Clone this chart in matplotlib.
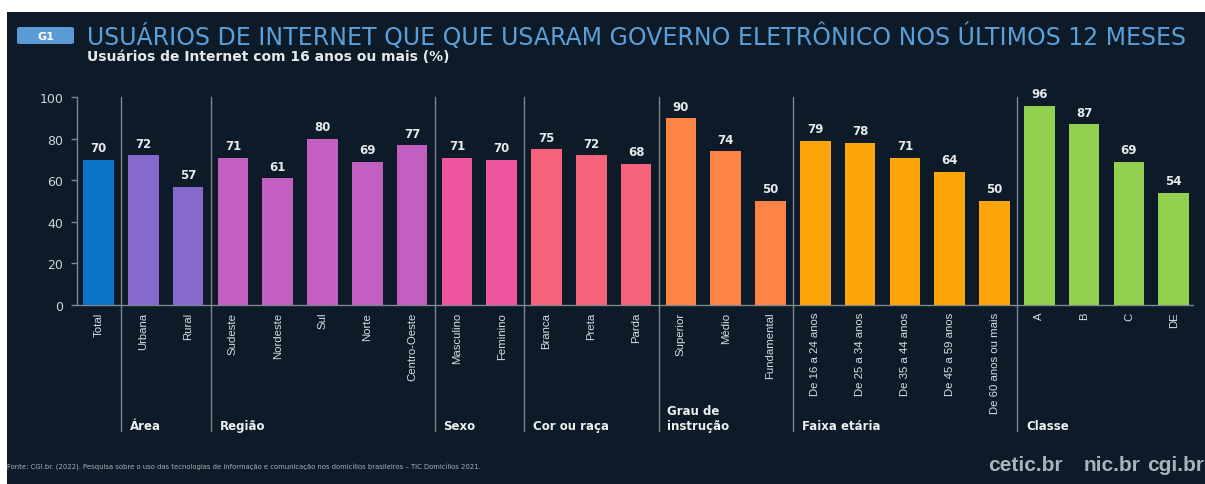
import matplotlib
matplotlib.use('Agg')
import matplotlib.pyplot as plt
from matplotlib.patches import Rectangle, FancyBboxPatch
import matplotlib.transforms as mtransforms

# dados do grafico G1 (TIC Domicilios 2021)
categories = ['Total', 'Urbana', 'Rural', 'Sudeste', 'Nordeste', 'Sul', 'Norte', 'Centro-Oeste',
              'Masculino', 'Feminino', 'Branca', 'Preta', 'Parda', 'Superior', 'Médio', 'Fundamental',
              'De 16 a 24 anos', 'De 25 a 34 anos', 'De 35 a 44 anos', 'De 45 a 59 anos',
              'De 60 anos ou mais', 'A', 'B', 'C', 'DE']
values = [70, 72, 57, 71, 61, 80, 69, 77, 71, 70, 75, 72, 68, 90, 74, 50,
          79, 78, 71, 64, 50, 96, 87, 69, 54]
groups = ['', 'Área', 'Região', 'Sexo', 'Cor ou raça', 'Grau de\ninstrução', 'Faixa etária', 'Classe']
group_sizes = [1, 2, 5, 2, 3, 3, 5, 4]
group_colors = ['#0b74c8', '#8569cc', '#c25fc0', '#f0569f', '#f7637a', '#fd8347', '#fda60c', '#92d14f']
yticks = [0, 20, 40, 60, 80, 100]

title = 'USUÁRIOS DE INTERNET QUE QUE USARAM GOVERNO ELETRÔNICO NOS ÚLTIMOS 12 MESES'
subtitle = 'Usuários de Internet com 16 anos ou mais (%)'
fonte = ('Fonte: CGI.br. (2022). Pesquisa sobre o uso das tecnologias de informação e comunicação '
         'nos domicílios brasileiros – TIC Domicílios 2021.')
logos = ['cetic.br', 'nic.br', 'cgi.br']

BG = '#0d1b28'
GRID = '#7d8791'
W, H = 1205.0, 485.0

def fx(px):
    return px / W

def fy(py):
    return 1 - py / H

narrow = ['Liberation Sans', 'DejaVu Sans']

fig = plt.figure(figsize=(12.05, 4.85), dpi=100, facecolor='white')
fig.add_artist(Rectangle((fx(7), 0), 1, fy(13), transform=fig.transFigure,
                         facecolor=BG, edgecolor='none', zorder=0))

ax = fig.add_axes([fx(77), fy(305.7), fx(1193) - fx(77), fy(98.4) - fy(305.7)])
ax.set_facecolor(BG)
ax.patch.set_alpha(0)

colors = []
for c, n in zip(group_colors, group_sizes):
    colors += [c] * n
xs = list(range(len(categories)))
bars = ax.bar(xs, values, width=0.685, color=colors, zorder=3)
for x, v in zip(xs, values):
    ax.annotate(str(v), (x, v), xytext=(0, 4), textcoords='offset points',
                ha='center', va='bottom', fontsize=8.5, fontweight='bold', color='#e6e8ea')

ax.set_xlim(-0.48, 24.43)
ax.set_ylim(0, 100)
ax.set_yticks(yticks)
ax.set_xticks(xs)
ax.set_xticklabels(categories, rotation=90, fontsize=8.2, color='#d8dce0', family=narrow)
ax.tick_params(axis='x', length=0, pad=5)
ax.tick_params(axis='y', length=4, width=1, color=GRID, labelsize=9, labelcolor='#d0d4d8', pad=6)
for s in ['top', 'right']:
    ax.spines[s].set_visible(False)
for s in ['left', 'bottom']:
    ax.spines[s].set_color(GRID)
    ax.spines[s].set_linewidth(1)

# separadores e nomes dos grupos
trans = mtransforms.blended_transform_factory(ax.transData, ax.transAxes)
pos = -0.5
for i, (g, n) in enumerate(zip(groups, group_sizes)):
    if i > 0:
        ax.plot([pos, pos], [-0.61, 1.0], color=GRID, lw=1, transform=trans, clip_on=False, zorder=2)
        ax.text(pos + 0.2, -0.614, g, transform=trans, ha='left', va='bottom',
                fontsize=8.5, fontweight='bold', color='#eef0f2', linespacing=1.2)
    pos += n

# cabecalho
fig.add_artist(FancyBboxPatch((fx(17), fy(45)), fx(74) - fx(17), fy(28) - fy(45),
                              boxstyle='round,pad=0,rounding_size=0.003', transform=fig.transFigure,
                              facecolor='#5b9bd5', edgecolor='none'))
fig.text(fx(45.5), fy(36.5), 'G1', ha='center', va='center', fontsize=8, fontweight='bold', color='white')
fig.text(fx(87), fy(37), title, ha='left', va='center', fontsize=17, color='#5b9fd8')
fig.text(fx(87), fy(57), subtitle, ha='left', va='center', fontsize=10, fontweight='bold', color='#e6e8ea')

# rodape
fig.text(fx(7), fy(468), fonte, ha='left', va='center', fontsize=4.95, color='#a8b0b8')
for lx, lt in zip([988, 1084, 1147], logos):
    fig.text(fx(lx), fy(466), lt, ha='left', va='center', fontsize=15, fontweight='bold',
             color='#a9b3bc', family=narrow)

fig.savefig('out.png', dpi=100, facecolor='white')
